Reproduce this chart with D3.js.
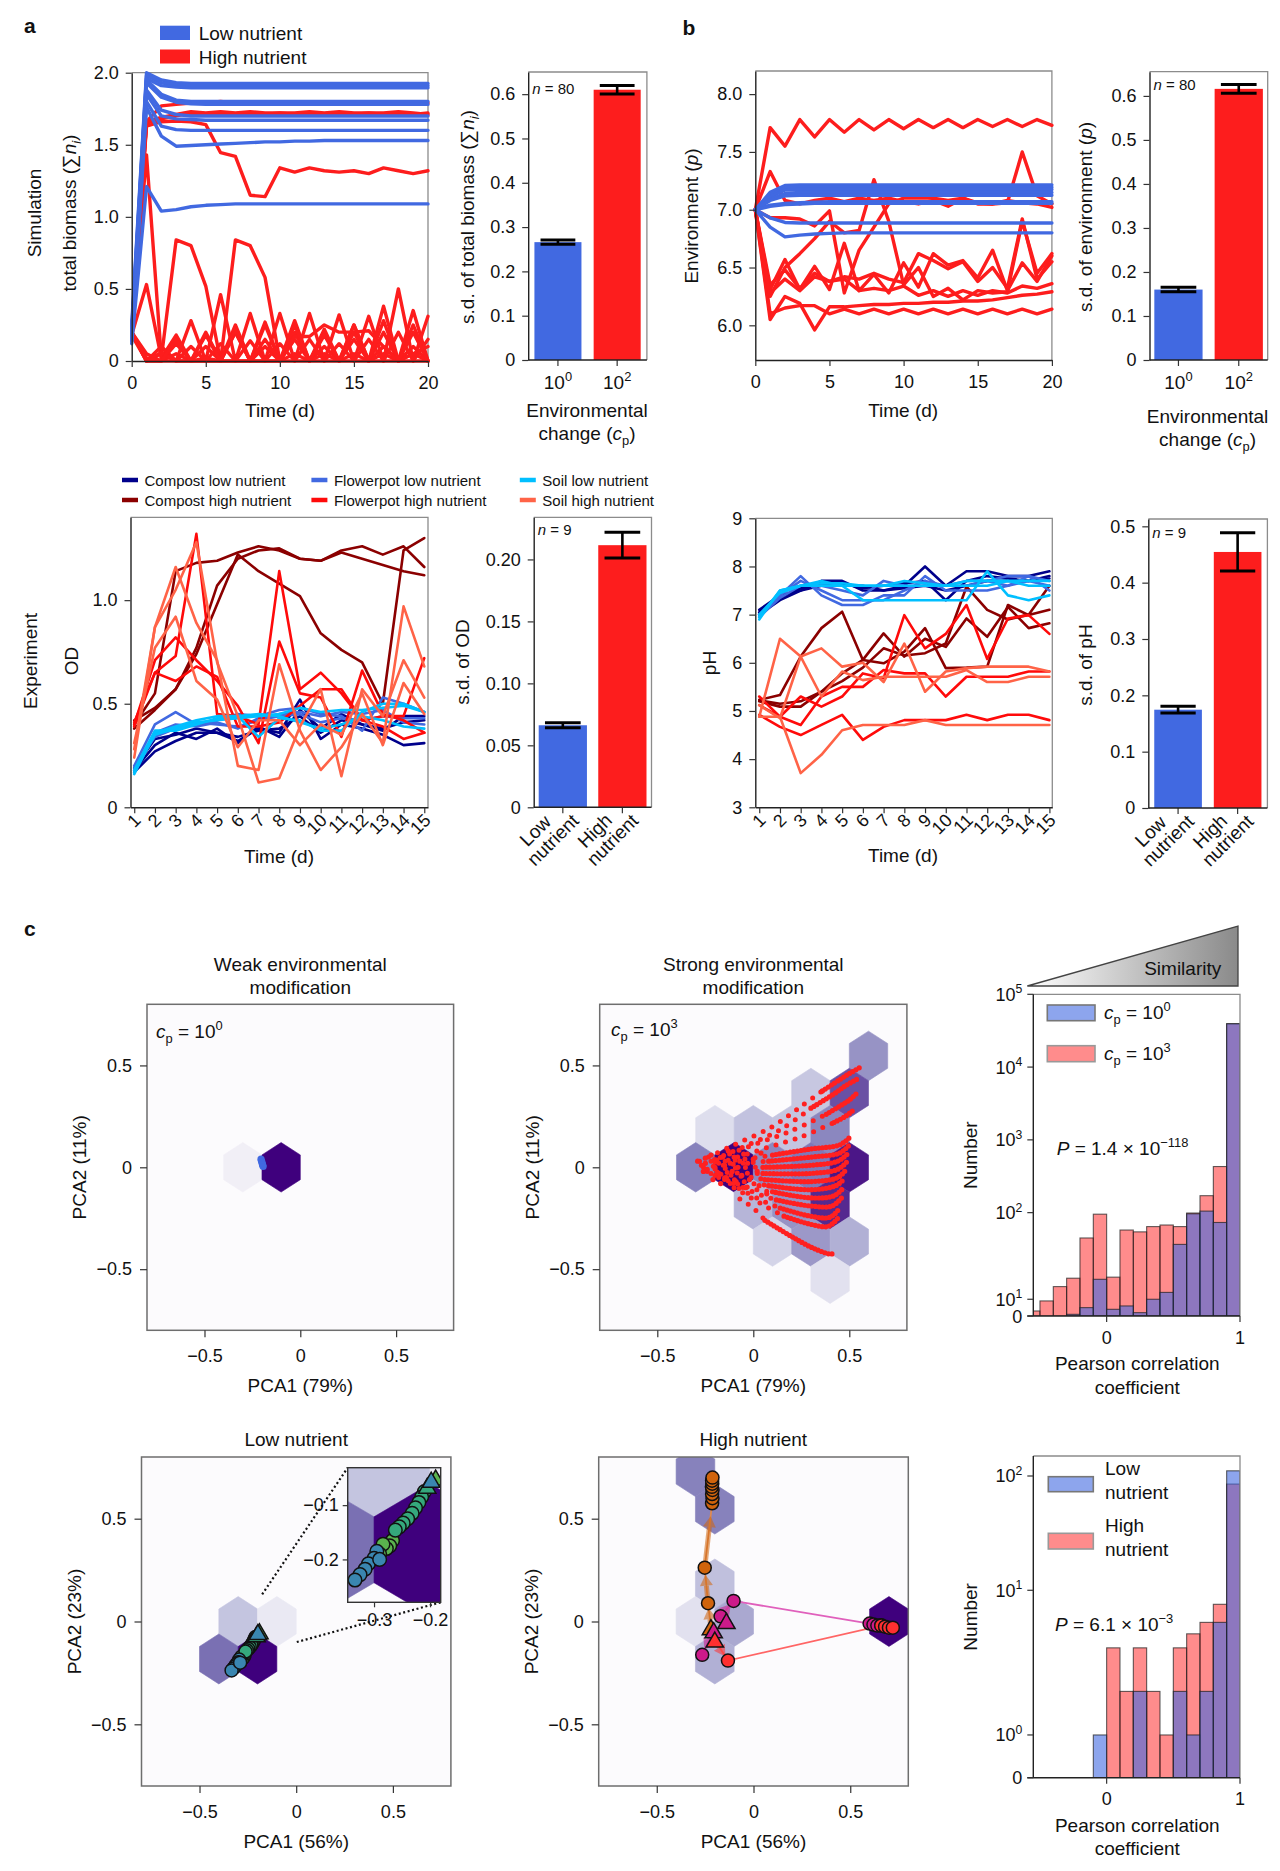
<!DOCTYPE html>
<html><head><meta charset="utf-8">
<script src="https://cdn.jsdelivr.net/npm/d3@7/dist/d3.min.js"></script>
<style>html,body{margin:0;padding:0;background:#fff}svg{display:block}</style>
</head><body>
<svg id="fig" width="1280" height="1871" xmlns="http://www.w3.org/2000/svg"></svg>
<script>
// ======================= DATA =======================
const simDays = [0,1,2,3,4,5,6,7,8,9,10,11,12,13,14,15,16,17,18,19,20];
const simBiomassLow = [
 [0.25,2.0,1.95,1.93,1.925,1.925,1.925,1.925,1.925,1.925,1.925,1.925,1.925,1.925,1.925,1.925,1.925,1.925,1.925,1.925,1.925],
 [0.22,1.98,1.93,1.915,1.91,1.91,1.91,1.91,1.91,1.91,1.91,1.91,1.91,1.91,1.91,1.91,1.91,1.91,1.91,1.91,1.91],
 [0.2,1.96,1.91,1.9,1.895,1.895,1.895,1.895,1.895,1.895,1.895,1.895,1.895,1.895,1.895,1.895,1.895,1.895,1.895,1.895,1.895],
 [0.18,1.95,1.85,1.81,1.8,1.8,1.8,1.8,1.8,1.8,1.8,1.8,1.8,1.8,1.8,1.8,1.8,1.8,1.8,1.8,1.8],
 [0.17,1.93,1.83,1.795,1.785,1.78,1.78,1.78,1.78,1.78,1.78,1.78,1.78,1.78,1.78,1.78,1.78,1.78,1.78,1.78,1.78],
 [0.16,1.88,1.74,1.71,1.7,1.7,1.7,1.7,1.7,1.7,1.7,1.7,1.7,1.7,1.7,1.7,1.7,1.7,1.7,1.7,1.7],
 [0.15,1.85,1.7,1.68,1.675,1.67,1.67,1.67,1.67,1.67,1.67,1.67,1.67,1.67,1.67,1.67,1.67,1.67,1.67,1.67,1.67],
 [0.15,1.8,1.63,1.605,1.6,1.6,1.6,1.6,1.6,1.6,1.6,1.6,1.6,1.6,1.6,1.6,1.6,1.6,1.6,1.6,1.6],
 [0.14,1.76,1.56,1.49,1.495,1.5,1.505,1.51,1.515,1.52,1.52,1.525,1.525,1.53,1.53,1.53,1.53,1.53,1.53,1.53,1.53],
 [0.12,1.21,1.04,1.05,1.07,1.08,1.085,1.09,1.09,1.09,1.09,1.09,1.09,1.09,1.09,1.09,1.09,1.09,1.09,1.09,1.09]
];
const simBiomassHigh = [
 [0.2,1.65,1.68,1.70,1.72,1.71,1.72,1.71,1.72,1.71,1.72,1.71,1.72,1.71,1.72,1.71,1.72,1.71,1.72,1.71,1.72],
 [0.2,1.66,1.69,1.71,1.73,1.72,1.73,1.72,1.73,1.72,1.72,1.72,1.73,1.72,1.73,1.72,1.72,1.72,1.73,1.72,1.71],
 [0.2,1.66,1.77,1.78,1.79,1.79,1.80,1.79,1.78,1.78,1.79,1.79,1.79,1.79,1.79,1.79,1.79,1.79,1.79,1.79,1.79],
 [0.2,1.63,1.66,1.665,1.66,1.64,1.445,1.42,1.15,1.14,1.34,1.31,1.34,1.32,1.31,1.32,1.30,1.34,1.32,1.30,1.32],
 [0.2,1.43,0.02,0.18,0,0.1,0,0.2,0,0.1,0,0.15,0,0.1,0,0.15,0,0.1,0,0.1,0],
 [0.18,0.53,0.02,0.84,0.80,0.52,0,0.2,0,0.25,0,0.2,0,0.2,0,0.25,0,0.2,0,0.35,0],
 [0.2,0,0,0.05,0,0.02,0,0.84,0.80,0.58,0,0.05,0,0.05,0,0.05,0,0.05,0,0.05,0],
 [0.2,0,0.1,0,0.28,0,0.46,0,0.33,0,0.33,0,0.33,0,0.32,0,0.31,0,0.5,0,0.31],
 [0.2,0.05,0,0.12,0,0.18,0,0.25,0,0.27,0,0.28,0,0.22,0,0.25,0,0.38,0,0.25,0],
 [0.2,0,0.05,0,0,0,0,0,0,0,0,0.17,0.17,0.25,0.2,0.2,0.21,0.1,0,0.05,0.1],
 [0.18,0,0,0,0,0,0,0,0,0,0,0,0,0,0,0,0,0,0,0,0],
 [0.2,0,0.06,0,0.1,0,0.12,0,0.14,0,0.12,0,0.15,0,0.12,0,0.15,0,0.2,0,0.15],
 [0.2,0.02,0,0.15,0,0.2,0,0.22,0,0.15,0,0.25,0,0.18,0,0.2,0,0.28,0,0.2,0]
];
const simEnvLow = [
 [7.0,7.15,7.21,7.215,7.215,7.215,7.215,7.215,7.215,7.215,7.215,7.215,7.215,7.215,7.215,7.215,7.215,7.215,7.215,7.215,7.215],
 [7.0,7.13,7.19,7.195,7.195,7.195,7.195,7.195,7.195,7.195,7.195,7.195,7.195,7.195,7.195,7.195,7.195,7.195,7.195,7.195,7.195],
 [7.0,7.11,7.17,7.175,7.175,7.175,7.175,7.175,7.175,7.175,7.175,7.175,7.175,7.175,7.175,7.175,7.175,7.175,7.175,7.175,7.175],
 [7.0,7.09,7.14,7.15,7.15,7.15,7.15,7.15,7.15,7.15,7.15,7.15,7.15,7.15,7.15,7.15,7.15,7.15,7.15,7.15,7.15],
 [7.0,7.08,7.12,7.125,7.125,7.125,7.125,7.125,7.125,7.125,7.125,7.125,7.125,7.125,7.125,7.125,7.125,7.125,7.125,7.125,7.125],
 [7.0,7.04,7.055,7.06,7.065,7.07,7.07,7.07,7.07,7.07,7.07,7.07,7.07,7.07,7.07,7.07,7.07,7.07,7.07,7.07,7.07],
 [7.0,7.03,7.045,7.05,7.055,7.055,7.055,7.055,7.055,7.055,7.055,7.055,7.055,7.055,7.055,7.055,7.055,7.055,7.055,7.055,7.055],
 [7.0,6.93,6.89,6.885,6.885,6.885,6.885,6.885,6.885,6.885,6.885,6.885,6.885,6.885,6.885,6.885,6.885,6.885,6.885,6.885,6.885],
 [7.0,6.85,6.765,6.78,6.79,6.795,6.8,6.8,6.8,6.8,6.8,6.8,6.8,6.8,6.8,6.8,6.8,6.8,6.8,6.8,6.8]
];
const simEnvHigh = [
 [7.0,7.71,7.55,7.78,7.63,7.78,7.67,7.78,7.69,7.78,7.70,7.78,7.71,7.78,7.71,7.78,7.72,7.78,7.72,7.78,7.73],
 [7.0,7.33,7.08,7.05,7.08,7.1,7.07,7.1,7.08,7.1,7.07,7.05,7.08,7.03,7.1,7.05,7.05,7.08,7.06,7.05,7.02],
 [7.0,6.05,6.25,6.19,5.96,6.16,6.16,6.17,6.18,6.18,6.19,6.19,6.2,6.2,6.21,6.21,6.22,6.24,6.26,6.27,6.29],
 [7.0,6.1,6.15,6.17,6.17,6.1,6.14,6.1,6.14,6.1,6.14,6.1,6.14,6.1,6.14,6.1,6.14,6.1,6.14,6.1,6.14],
 [7.0,6.31,6.57,6.31,6.51,6.31,6.71,6.3,6.44,6.28,6.54,6.33,6.62,6.52,6.56,6.41,6.65,6.3,6.54,6.38,6.6],
 [7.0,6.35,6.48,6.32,6.45,6.38,6.42,6.4,6.45,6.4,6.37,6.62,6.56,6.49,6.55,6.38,6.5,6.32,6.92,6.4,6.55],
 [7.0,6.93,6.93,6.92,6.86,6.99,6.28,6.65,6.85,7.05,7.1,7.1,7.1,7.08,7.1,7.06,7.05,7.06,7.5,7.12,7.05],
 [7.0,6.28,6.4,6.3,6.42,6.38,6.4,6.3,6.32,6.3,6.34,6.26,6.3,6.25,6.3,6.26,6.3,6.28,6.34,6.32,6.36],
 [7.0,6.25,6.5,6.62,6.75,6.9,6.8,6.82,7.26,6.9,6.35,6.5,6.25,6.32,6.22,6.3,6.28,6.29,6.9,6.45,6.62]
];
const cpExponents = ['0','2'];
const sdBiomass = [0.266, 0.61];
const sdBiomassErr = [0.005, 0.0095];
const sdEnv = [0.16, 0.616];
const sdEnvErr = [0.005, 0.01];

const expDays = [1,2,3,4,5,6,7,8,9,10,11,12,13,14,15];
const odCompostLow = [
 [0.17,0.27,0.32,0.36,0.36,0.32,0.38,0.36,0.52,0.33,0.40,0.38,0.35,0.30,0.31],
 [0.18,0.30,0.36,0.33,0.38,0.31,0.39,0.34,0.47,0.38,0.45,0.40,0.37,0.44,0.44],
 [0.19,0.33,0.35,0.38,0.36,0.34,0.37,0.38,0.44,0.36,0.42,0.40,0.38,0.41,0.42]];
const odCompostHigh = [
 [0.42,0.48,0.57,0.74,0.98,1.22,1.14,1.08,1.02,0.84,0.76,0.70,0.50,1.24,1.30],
 [0.40,0.55,1.14,1.18,1.19,1.23,1.26,1.24,1.20,1.19,1.24,1.26,1.22,1.26,1.16],
 [0.38,0.47,0.57,0.77,1.07,1.20,1.24,1.25,1.20,1.19,1.23,1.20,1.17,1.14,1.12]];
const odFlowerpotLow = [
 [0.20,0.40,0.46,0.40,0.42,0.45,0.44,0.47,0.48,0.45,0.44,0.37,0.53,0.50,0.46],
 [0.18,0.36,0.40,0.39,0.41,0.38,0.43,0.45,0.46,0.44,0.46,0.45,0.47,0.41,0.40],
 [0.19,0.34,0.38,0.41,0.40,0.39,0.42,0.44,0.45,0.41,0.43,0.42,0.44,0.43,0.43]];
const odFlowerpotHigh = [
 [0.40,0.71,0.82,0.71,0.61,0.49,0.31,0.80,0.55,0.53,0.34,0.66,0.45,0.42,0.36],
 [0.41,0.65,0.73,1.32,0.45,0.44,0.40,1.14,0.57,0.65,0.55,0.42,0.44,0.44,0.72],
 [0.39,0.65,0.61,0.68,0.63,0.39,0.39,0.41,0.49,0.57,0.57,0.42,0.39,0.33,0.36]];
const odSoilLow = [
 [0.16,0.36,0.39,0.42,0.44,0.44,0.34,0.43,0.42,0.37,0.37,0.46,0.50,0.50,0.46],
 [0.18,0.37,0.37,0.40,0.43,0.44,0.45,0.44,0.41,0.38,0.40,0.44,0.42,0.39,0.38],
 [0.17,0.35,0.38,0.41,0.42,0.43,0.44,0.45,0.48,0.46,0.47,0.47,0.48,0.49,0.46]];
const odSoilHigh = [
 [0.24,0.87,1.16,0.89,0.71,0.20,0.18,0.69,0.37,0.18,0.29,0.45,0.31,0.97,0.68],
 [0.28,0.87,1.05,1.28,0.70,0.44,0.12,0.14,0.39,0.57,0.15,0.57,0.44,0.71,0.53],
 [0.31,0.77,0.92,0.61,0.52,0.29,0.42,0.42,0.30,0.40,0.35,0.55,0.30,0.60,0.45]];
const phCompostLow = [
 [7.1,7.4,7.5,7.7,7.7,7.5,7.5,7.6,8.0,7.6,7.9,7.9,7.8,7.8,7.9],
 [7.05,7.35,7.55,7.65,7.65,7.55,7.6,7.65,7.7,7.3,7.7,7.8,7.75,7.7,7.8],
 [7.0,7.3,7.5,7.6,7.6,7.6,7.5,7.55,7.6,7.5,7.6,7.7,7.7,7.7,7.75]];
const phCompostHigh = [
 [5.23,5.33,6.13,6.72,7.06,6.06,5.99,6.23,6.72,5.89,5.9,5.92,7.2,6.99,7.1],
 [5.2,5.09,5.09,5.4,5.78,6.06,6.61,6.13,6.5,6.33,6.92,6.54,7.16,6.72,6.82],
 [5.22,5.15,5.2,5.4,5.62,5.9,6.3,6.15,6.2,6.4,7.58,7.1,6.9,7.0,7.6]];
const phFlowerpotLow = [
 [7.0,7.4,7.8,7.4,7.2,7.2,7.4,7.4,7.8,7.5,7.5,7.5,7.6,7.8,7.5],
 [7.0,7.4,7.7,7.5,7.3,7.3,7.3,7.5,7.7,7.6,7.6,7.7,7.8,7.8,7.7],
 [6.95,7.35,7.6,7.6,7.5,7.4,7.7,7.6,7.6,7.6,7.7,7.7,7.6,7.7,7.6]];
const phFlowerpotHigh = [
 [4.92,4.67,4.5,4.71,4.92,4.4,4.67,4.81,4.81,4.81,4.92,4.81,4.92,4.92,4.81],
 [5.12,4.88,5.3,5.09,5.3,5.78,5.68,6.99,6.3,6.6,7.2,6.08,6.92,6.99,6.6],
 [5.3,4.88,4.71,5.3,5.5,5.5,5.85,5.78,5.78,5.3,5.71,5.71,5.71,5.82,5.82]];
const phSoilLow = [
 [6.9,7.5,7.6,7.7,7.6,7.3,7.3,7.3,7.3,7.3,7.3,7.9,7.4,7.3,7.4],
 [6.95,7.5,7.6,7.6,7.6,7.6,7.6,7.6,7.6,7.6,7.6,7.6,7.7,7.6,7.6],
 [7.0,7.45,7.6,7.65,7.65,7.6,7.6,7.7,7.65,7.6,7.7,7.7,7.7,7.7,7.7]];
const phSoilHigh = [
 [4.88,6.5,6.13,6.3,5.92,6.0,5.6,6.4,5.4,5.82,5.89,5.92,5.92,5.92,5.82],
 [4.88,4.88,3.71,4.09,4.6,4.71,4.71,4.71,4.81,4.71,4.71,4.71,4.71,4.71,4.71],
 [5.12,4.85,6.13,5.3,5.82,5.64,5.71,5.71,5.71,5.71,5.85,5.6,5.6,5.71,5.71]];
const expLegend = ['Compost low nutrient','Compost high nutrient','Flowerpot low nutrient','Flowerpot high nutrient','Soil low nutrient','Soil high nutrient'];
const nutrientLabels = [['Low','nutrient'],['High','nutrient']];
const sdOD = [0.0662, 0.2115];
const sdODErr = [0.002, 0.0104];
const sdPH = [0.1745, 0.4545];
const sdPHErr = [0.006, 0.034];

// panel c : hexbin backgrounds  [x centre, row, density level]
const hexWeak = [[-0.3,0,0.1],[-0.1,0,1.0]];
const hexStrong = [[0.6,3,0.53],[0.3,2,0.33],[0.5,2,0.75],[-0.2,1,0.22],[0.0,1,0.35],[0.2,1,0.34],[0.4,1,0.58],
 [-0.3,0,0.6],[-0.1,0,1.0],[0.1,0,0.57],[0.3,0,0.63],[0.5,0,0.93],[0.0,-1,0.4],[0.2,-1,0.53],[0.4,-1,0.87],
 [0.1,-2,0.27],[0.3,-2,0.51],[0.5,-2,0.42],[0.4,-3,0.2]];
const hexLow = [[-0.3,0,0.34],[-0.1,0,0.15],[-0.4,-1,0.66],[-0.2,-1,1.0]];
const hexHigh = [[-0.3,4,0.6],[-0.2,3,0.6],[-0.2,1,0.36],[-0.3,0,0.2],[-0.1,0,0.45],[-0.2,-1,0.42],[0.7,0,1.0]];
const weakPoints = [[-0.205,0.04],[-0.203,0.032],[-0.2,0.024],[-0.198,0.016],[-0.196,0.01],[-0.194,0.004]];
const strongSparse = [
 [[-0.28,0.03],[-0.1,0.11],[0.1,0.2],[0.25,0.3],[0.36,0.375]],
 [[-0.25,0.02],[-0.05,0.1],[0.15,0.19],[0.3,0.29]],
 [[-0.22,0.03],[0.0,0.11],[0.2,0.18],[0.38,0.26]],
 [[-0.18,0.02],[0.05,0.09],[0.25,0.15],[0.42,0.22]],
 [[-0.25,0.02],[-0.05,0.04],[0.1,0.06]],
 [[-0.26,0.0],[-0.05,0.02],[0.08,0.03]],
 [[-0.25,-0.01],[0.0,0.0],[0.05,0.0]],
 [[-0.24,-0.02],[-0.02,-0.03],[0.05,-0.03]],
 [[-0.22,-0.03],[0.0,-0.05],[0.06,-0.06]],
 [[-0.2,-0.04],[0.0,-0.08],[0.08,-0.09]],
 [[-0.18,-0.05],[0.02,-0.11],[0.1,-0.12]],
 [[-0.15,-0.06],[0.05,-0.14],[0.12,-0.16]],
 [[-0.12,-0.08],[0.06,-0.17],[0.14,-0.2]],
 [[-0.1,-0.1],[0.08,-0.2],[0.16,-0.24]],
 [[-0.07,-0.155],[0.0,-0.2],[0.06,-0.26]]];
const strongDense = [
 [[0.36,0.375],[0.45,0.43],[0.5,0.46],[0.555,0.49]],
 [[0.3,0.29],[0.42,0.36],[0.48,0.4],[0.545,0.435]],
 [[0.38,0.26],[0.45,0.3],[0.5,0.33],[0.54,0.365]],
 [[0.42,0.22],[0.48,0.25],[0.52,0.28]],
 [[0.1,0.06],[0.3,0.09],[0.45,0.11],[0.5,0.145]],
 [[0.08,0.03],[0.3,0.05],[0.45,0.07],[0.495,0.105]],
 [[0.05,0.0],[0.3,0.01],[0.44,0.03],[0.49,0.065]],
 [[0.05,-0.03],[0.3,-0.03],[0.44,-0.01],[0.485,0.025]],
 [[0.06,-0.06],[0.3,-0.07],[0.44,-0.05],[0.48,-0.015]],
 [[0.08,-0.09],[0.3,-0.11],[0.43,-0.09],[0.475,-0.055]],
 [[0.1,-0.12],[0.3,-0.15],[0.42,-0.14],[0.47,-0.1]],
 [[0.12,-0.16],[0.3,-0.19],[0.41,-0.19],[0.46,-0.15]],
 [[0.14,-0.2],[0.3,-0.24],[0.4,-0.245],[0.45,-0.2]],
 [[0.16,-0.24],[0.3,-0.28],[0.39,-0.29],[0.44,-0.25]],
 [[0.06,-0.26],[0.2,-0.34],[0.32,-0.4],[0.41,-0.425],[0.415,-0.41]]];
const strongScatter = [[-0.29,0.03],[-0.27,0.01],[-0.25,0.045],[-0.24,-0.01],[-0.22,0.06],[-0.2,0.0],[-0.19,0.035],
 [-0.18,-0.03],[-0.16,0.05],[-0.15,0.01],[-0.14,-0.05],[-0.13,0.08],[-0.12,0.02],[-0.11,-0.02],[-0.1,0.05],
 [-0.09,-0.07],[-0.08,0.0],[-0.07,0.03],[-0.06,-0.04],[-0.05,0.065],[-0.04,-0.1],[-0.03,0.02],[-0.02,-0.06],
 [0.0,0.04],[0.02,-0.02],[-0.21,-0.06],[-0.17,-0.08],[-0.26,-0.02],[0.03,-0.09],[0.07,-0.13],[0.04,0.07]];
const lowTeal = [[-0.205,-0.065],[-0.21,-0.075],[-0.215,-0.085],[-0.22,-0.095],[-0.226,-0.105],[-0.232,-0.115],[-0.24,-0.125],[-0.248,-0.133],[-0.255,-0.14],[-0.262,-0.146]];
const lowGreen = [[-0.19,-0.05],[-0.267,-0.165],[-0.272,-0.175],[-0.278,-0.18],[-0.284,-0.172],[-0.29,-0.19]];
const lowBlue = [[-0.198,-0.054],[-0.295,-0.185],[-0.3,-0.198],[-0.31,-0.208],[-0.316,-0.218],[-0.325,-0.228],[-0.334,-0.238],[-0.29,-0.2]];
const zoomLinkFrom = [[-0.176,0.132],[0.003,-0.1]];
const hiOrange = [[-0.22,-0.03],[-0.235,0.089],[-0.252,0.262],[-0.214,0.575],[-0.212,0.6],[-0.214,0.62],[-0.212,0.64],[-0.215,0.655],[-0.213,0.67],[-0.214,0.685],[-0.212,0.7]];
const hiMagentaA = [[-0.14,0.0],[-0.17,0.025],[-0.103,0.1],[0.6,-0.01],[0.62,-0.015],[0.64,-0.02],[0.66,-0.018]];
const hiMagentaB = [[-0.206,-0.045],[-0.265,-0.162]];
const hiRed = [[-0.2,-0.09],[-0.132,-0.19],[0.66,-0.02],[0.68,-0.025],[0.7,-0.03],[0.72,-0.03]];

// histograms: bin lower edges (width 0.1) and counts
const hist1Bins = [-0.6,-0.5,-0.4,-0.3,-0.2,-0.1,0.0,0.1,0.2,0.3,0.4,0.5,0.6,0.7,0.8,0.9];
const hist1Strong = [3,9,14,17.5,51,96,18,63,60,69,72,69,99,171,430,39400];
const hist1Weak = [0,0,0,1,5,17,4,6,2,10,12,43,97,105,77,39400];
const hist1TickCounts = [0,10,100,1000,10000,100000];
const hist1TickExp = [null,'1','2','3','4','5'];
const hist1TickDecades = [0.58,0.81,2,3,4,5];
const hist2Bins = [-0.1,0.0,0.1,0.2,0.3,0.4,0.5,0.6,0.7,0.8,0.9];
const hist2High = [0,4,2,4,2,1,4,5,6,8,85];
const hist2Low = [1,0,0,2,0,0,2,1,2,6,111];
const hist2TickCounts = [0,1,10,100];
const hist2TickExp = [null,'0','1','2'];
const hist2TickDecades = [-0.64,-0.266,1,2];

// ======================= DRAWING =======================
const FONT = '"Liberation Sans", Arial, Helvetica, sans-serif';
const BLUE = '#4169e1', RED = '#fd1d1d';
const svg = d3.select('#fig').attr('font-family', FONT);
const defs = svg.append('defs');
let clipN = 0;
function clip(L,T,R,B){ const id='clp'+(clipN++); defs.append('clipPath').attr('id',id).append('rect').attr('x',L).attr('y',T).attr('width',R-L).attr('height',B-T); return `url(#${id})`; }

function txt(g, x, y, parts, o={}) {
  const size = o.size || 19;
  const t = g.append('text').attr('x', x).attr('y', y).attr('font-size', size)
    .attr('text-anchor', o.anchor || 'start').attr('fill', o.fill || '#111');
  if (o.rotate) t.attr('transform', `rotate(${o.rotate},${x},${y})`);
  if (o.bold) t.attr('font-weight', 'bold');
  let shift = 0;
  (Array.isArray(parts) ? parts : [parts]).forEach(p => {
    if (typeof p === 'string') p = {t: p};
    const s = t.append('tspan').text(p.t);
    let target = 0, fs = size;
    if (p.sup) { target = -0.42 * size; fs = 0.68 * size; }
    if (p.sub) { target = 0.28 * size; fs = 0.68 * size; }
    s.attr('font-size', fs);
    if (target !== shift) { s.attr('dy', target - shift); shift = target; }
    if (p.it) s.attr('font-style', 'italic');
  });
  return t;
}
function fixAxis(a, o={}) {
  a.attr('font-family', FONT).attr('font-size', o.fs || 18);
  a.selectAll('text').attr('fill', '#111');
  a.selectAll('.tick line').attr('stroke', '#333').attr('stroke-width', 1.2);
  if (o.noDomain) a.select('.domain').remove();
  else a.select('.domain').attr('stroke', '#222').attr('stroke-width', 1.4);
}
function axL(g, s, L, ticks, fmt, o={}) {
  const a = g.append('g').attr('transform', `translate(${L},0)`)
    .call(d3.axisLeft(s).tickValues(ticks).tickFormat(fmt).tickSize(o.ts || 6).tickSizeOuter(0).tickPadding(o.tp || 7));
  fixAxis(a, o); return a;
}
function axB(g, s, B, ticks, fmt, o={}) {
  const a = g.append('g').attr('transform', `translate(0,${B})`)
    .call(d3.axisBottom(s).tickValues(ticks).tickFormat(fmt).tickSize(o.ts || 6).tickSizeOuter(0).tickPadding(o.tp || 8));
  fixAxis(a, o); return a;
}
function grayTR(g, L, T, R, B) {
  g.append('path').attr('d', `M${L},${T}H${R}V${B}`).attr('fill', 'none').attr('stroke', '#8c8c8c').attr('stroke-width', 1.3);
}
const f1 = d => d === 0 ? '0' : d3.format('.1f')(d);
const f2 = d => d === 0 ? '0' : d3.format('.2f')(d);

function drawSeries(g, xs, ys, xv, list, color, w) {
  const line = d3.line().x((d, i) => xs(xv[i])).y(d => ys(d));
  g.selectAll(null).data(list).join('path').attr('d', line).attr('fill', 'none')
    .attr('stroke', color).attr('stroke-width', w).attr('stroke-linejoin', 'round').attr('stroke-linecap', 'round');
}

function barPanel(o) {
  const {L, T, R, B} = o;
  const g = svg.append('g');
  const x = d3.scaleBand().domain([0, 1]).range([L, R]).paddingInner(o.pi).paddingOuter(o.po);
  const y = d3.scaleLinear().domain([0, o.ymax]).range([B, T]);
  grayTR(g, L, T, R, B);
  g.selectAll(null).data(o.vals).join('rect')
    .attr('x', (d, i) => x(i)).attr('width', x.bandwidth())
    .attr('y', d => y(d)).attr('height', d => B - y(d)).attr('fill', (d, i) => [BLUE, RED][i]);
  const cap = x.bandwidth() * 0.37;
  o.vals.forEach((v, i) => {
    const cx = x(i) + x.bandwidth() / 2;
    const e = o.errs[i];
    g.append('line').attr('x1', cx).attr('x2', cx).attr('y1', y(v - e)).attr('y2', y(v + e)).attr('stroke', '#000').attr('stroke-width', 2.6);
    [v - e, v + e].forEach(vv => g.append('line').attr('x1', cx - cap).attr('x2', cx + cap).attr('y1', y(vv)).attr('y2', y(vv)).attr('stroke', '#000').attr('stroke-width', 3));
    g.append('line').attr('x1', cx).attr('x2', cx).attr('y1', B).attr('y2', B + 6).attr('stroke', '#333').attr('stroke-width', 1.2);
  });
  g.append('line').attr('x1', L).attr('x2', R).attr('y1', B).attr('y2', B).attr('stroke', '#222').attr('stroke-width', 1.4);
  axL(g, y, L, o.ticks, o.fmt);
  txt(g, L + 4, o.nY, [{t: 'n', it: true}, ' = ' + o.n], {size: 15});
  return {g, x, y, cx: i => x(i) + x.bandwidth() / 2};
}

// ---------------- Panel a ----------------
{
  const L = 131.7, T = 72.7, R = 428, B = 361;
  const g = svg.append('g');
  const xs = d3.scaleLinear().domain([0, 20]).range([L, R]);
  const ys = d3.scaleLinear().domain([0, 2]).range([B, T]);
  grayTR(g, L, T, R, B);
  drawSeries(g, xs, ys, simDays, simBiomassHigh, RED, 3.4);
  drawSeries(g, xs, ys, simDays, simBiomassLow, BLUE, 3.4);
  axL(g, ys, L, [0, 0.5, 1, 1.5, 2], f1);
  axB(g, xs, B, [0, 5, 10, 15, 20], d3.format('d'), {tp: 9});
  txt(g, 24, 33, 'a', {size: 21, bold: true});
  g.append('rect').attr('x', 160).attr('y', 25.7).attr('width', 30).attr('height', 14.3).attr('fill', BLUE);
  g.append('rect').attr('x', 160).attr('y', 49.5).attr('width', 30).attr('height', 14).attr('fill', RED);
  txt(g, 198.7, 39.5, 'Low nutrient');
  txt(g, 198.7, 63.5, 'High nutrient');
  txt(g, 41.3, 213, 'Simulation', {anchor: 'middle', rotate: -90});
  txt(g, 76, 213, ['total biomass (', '∑', {t: 'n', it: true}, {t: 'i', sub: true, it: true}, ')'], {anchor: 'middle', rotate: -90});
  txt(g, 280, 417, 'Time (d)', {anchor: 'middle'});
  const b = barPanel({L: 528.2, T: 72, R: 646.9, B: 360, ymax: 0.65, pi: 0.206, po: 0.105, vals: sdBiomass, errs: sdBiomassErr,
    ticks: [0, 0.1, 0.2, 0.3, 0.4, 0.5, 0.6], fmt: f1, n: '80', nY: 94});
  cpExponents.forEach((e, i) => txt(g, b.cx(i), 389, ['10', {t: e, sup: true}], {anchor: 'middle'}));
  txt(g, 587, 417, 'Environmental', {anchor: 'middle'});
  txt(g, 587, 440, ['change (', {t: 'c', it: true}, {t: 'p', sub: true}, ')'], {anchor: 'middle'});
  txt(g, 474, 217, ['s.d. of total biomass (', '∑', {t: 'n', it: true}, {t: 'i', sub: true, it: true}, ')'], {anchor: 'middle', rotate: -90});
}
// ---------------- Panel b ----------------
{
  const L = 755.3, T = 71, R = 1051.9, B = 360;
  const g = svg.append('g');
  const xs = d3.scaleLinear().domain([0, 20]).range([L, R]);
  const ys = d3.scaleLinear().domain([5.7, 8.2]).range([B, T]);
  grayTR(g, L, T, R, B);
  drawSeries(g, xs, ys, simDays, simEnvHigh, RED, 3.4);
  drawSeries(g, xs, ys, simDays, simEnvLow, BLUE, 3.4);
  axL(g, ys, L, [6, 6.5, 7, 7.5, 8], f1);
  axB(g, xs, B, [0, 5, 10, 15, 20], d3.format('d'), {tp: 9});
  txt(g, 682.5, 35, 'b', {size: 21, bold: true});
  txt(g, 698.4, 216, ['Environment (', {t: 'p', it: true}, ')'], {anchor: 'middle', rotate: -90});
  txt(g, 903.2, 417, 'Time (d)', {anchor: 'middle'});
  const b = barPanel({L: 1149.5, T: 71.7, R: 1267.7, B: 360, ymax: 0.655, pi: 0.2, po: 0.08, vals: sdEnv, errs: sdEnvErr,
    ticks: [0, 0.1, 0.2, 0.3, 0.4, 0.5, 0.6], fmt: f1, n: '80', nY: 90});
  cpExponents.forEach((e, i) => txt(g, b.cx(i), 389, ['10', {t: e, sup: true}], {anchor: 'middle'}));
  txt(g, 1207.6, 423, 'Environmental', {anchor: 'middle'});
  txt(g, 1207.6, 446, ['change (', {t: 'c', it: true}, {t: 'p', sub: true}, ')'], {anchor: 'middle'});
  txt(g, 1092, 217, ['s.d. of environment (', {t: 'p', it: true}, ')'], {anchor: 'middle', rotate: -90});
}
// ---------------- Row 2 (experiment) ----------------
const expColors = ['#00008b', '#8b0000', '#4169e1', '#ff0a0a', '#00bfff', '#ff6347'];
{
  const g = svg.append('g');
  const colX = [122, 311.4, 519.8];
  expLegend.forEach((lab, i) => {
    const cx = colX[Math.floor(i / 2)], cy = i % 2 === 0 ? 480 : 500;
    g.append('line').attr('x1', cx).attr('x2', cx + 16).attr('y1', cy).attr('y2', cy).attr('stroke', expColors[i]).attr('stroke-width', 4.5);
    txt(g, cx + 22.5, cy + 5.5, lab, {size: 15});
  });
}
function dayAxis(g, xs, B) {
  const a = axB(g, xs, B, expDays, d3.format('d'), {});
  a.selectAll('text').attr('x', 0).attr('y', 0).attr('dy', 0).attr('text-anchor', 'end').attr('transform', 'translate(7,14) rotate(-45)');
}
function nutrientTicks(g, b, B) {
  nutrientLabels.forEach((lines, i) => {
    const gg = g.append('g').attr('transform', `translate(${b.cx(i) - 23},${B + 28}) rotate(-45)`);
    txt(gg, 0, 0, lines[0], {anchor: 'middle'});
    txt(gg, 6, 19, lines[1], {anchor: 'middle'});
  });
}
{
  const L = 130.5, T = 517.3, R = 428, B = 807.3;
  const g = svg.append('g');
  const xs = d3.scaleLinear().domain([0.82, 15.18]).range([L, R]);
  const ys = d3.scaleLinear().domain([0, 1.4]).range([B, T]);
  grayTR(g, L, T, R, B);
  [odCompostLow, odCompostHigh, odFlowerpotLow, odFlowerpotHigh, odSoilLow, odSoilHigh].forEach((s, i) => drawSeries(g, xs, ys, expDays, s, expColors[i], 2.6));
  axL(g, ys, L, [0, 0.5, 1.0], f1);
  dayAxis(g, xs, B);
  txt(g, 37, 661, 'Experiment', {anchor: 'middle', rotate: -90});
  txt(g, 78.3, 661, 'OD', {anchor: 'middle', rotate: -90});
  txt(g, 279, 863, 'Time (d)', {anchor: 'middle'});
  const b = barPanel({L: 533.7, T: 517.3, R: 651.5, B: 807.3, ymax: 0.234, pi: 0.19, po: 0.084, vals: sdOD, errs: sdODErr,
    ticks: [0, 0.05, 0.1, 0.15, 0.2], fmt: f2, n: '9', nY: 535});
  nutrientTicks(g, b, 807.3);
  txt(g, 468.5, 662, 's.d. of OD', {anchor: 'middle', rotate: -90});
}
{
  const L = 755.3, T = 518.3, R = 1052.3, B = 807.3;
  const g = svg.append('g');
  const xs = d3.scaleLinear().domain([0.81, 15.14]).range([L, R]);
  const ys = d3.scaleLinear().domain([3, 9]).range([B, T]);
  grayTR(g, L, T, R, B);
  [phCompostLow, phCompostHigh, phFlowerpotLow, phFlowerpotHigh, phSoilLow, phSoilHigh].forEach((s, i) => drawSeries(g, xs, ys, expDays, s, expColors[i], 2.6));
  axL(g, ys, L, [3, 4, 5, 6, 7, 8, 9], d3.format('d'));
  dayAxis(g, xs, B);
  txt(g, 716, 663, 'pH', {anchor: 'middle', rotate: -90});
  txt(g, 903, 862, 'Time (d)', {anchor: 'middle'});
  const b = barPanel({L: 1148.3, T: 519, R: 1267.4, B: 808, ymax: 0.513, pi: 0.2, po: 0.1, vals: sdPH, errs: sdPHErr,
    ticks: [0, 0.1, 0.2, 0.3, 0.4, 0.5], fmt: f1, n: '9', nY: 537.5});
  nutrientTicks(g, b, 808);
  txt(g, 1092, 665, 's.d. of pH', {anchor: 'middle', rotate: -90});
}
// ---------------- Panel c ----------------
const hexHW = 0.1, hexR = 0.1215;
function hexD(xs, ys, cx, row) {
  const cy = row * 1.5 * hexR;
  const p = [[cx, cy + hexR], [cx + hexHW, cy + hexR / 2], [cx + hexHW, cy - hexR / 2], [cx, cy - hexR], [cx - hexHW, cy - hexR / 2], [cx - hexHW, cy + hexR / 2]];
  return 'M' + p.map(q => xs(q[0]).toFixed(2) + ',' + ys(q[1]).toFixed(2)).join('L') + 'Z';
}
function drawHexes(gr, xs, ys, hexes) {
  gr.selectAll(null).data(hexes).join('path').attr('d', d => hexD(xs, ys, d[0], d[1]))
    .attr('fill', d => d3.interpolatePurples(d[2])).attr('stroke', d => d3.interpolatePurples(d[2])).attr('stroke-width', 0.6);
}
function pcaPanel(o) {
  const {L, T, R, B} = o;
  const g = svg.append('g');
  const xs = d3.scaleLinear().domain([-0.8, 0.8]).range([L, R]);
  const ys = d3.scaleLinear().domain([-0.8, 0.8]).range([B, T]);
  g.append('rect').attr('x', L).attr('y', T).attr('width', R - L).attr('height', B - T).attr('fill', d3.interpolatePurples(0));
  const inner = g.append('g').attr('clip-path', clip(L, T, R, B));
  drawHexes(inner, xs, ys, o.hexes);
  g.append('rect').attr('x', L).attr('y', T).attr('width', R - L).attr('height', B - T).attr('fill', 'none').attr('stroke', '#6e6e6e').attr('stroke-width', 1.5);
  axL(g, ys, L, [-0.5, 0, 0.5], f1, {noDomain: true, ts: 7, tp: 8});
  axB(g, xs, B, [-0.5, 0, 0.5], f1, {noDomain: true, ts: 7, tp: 12});
  txt(g, L - 61, (T + B) / 2, o.ylab, {anchor: 'middle', rotate: -90});
  txt(g, (L + R) / 2, B + 61.5, o.xlab, {anchor: 'middle'});
  return {g, inner, xs, ys};
}
const dotLine = d3.line().curve(d3.curveCatmullRom);
{
  const g = svg.append('g');
  txt(g, 24, 936, 'c', {size: 21, bold: true});
  // weak
  const w = pcaPanel({L: 147, T: 1004.3, R: 453.6, B: 1330.3, hexes: hexWeak, ylab: 'PCA2 (11%)', xlab: 'PCA1 (79%)'});
  w.inner.selectAll(null).data(weakPoints).join('circle').attr('cx', d => w.xs(d[0])).attr('cy', d => w.ys(d[1])).attr('r', 3.6).attr('fill', BLUE);
  txt(g, 300.3, 971, 'Weak environmental', {anchor: 'middle'});
  txt(g, 300.3, 994, 'modification', {anchor: 'middle'});
  txt(g, 156, 1038, [{t: 'c', it: true}, {t: 'p', sub: true}, ' = 10', {t: '0', sup: true}]);
  // strong
  const s = pcaPanel({L: 599.7, T: 1004.3, R: 906.9, B: 1330.3, hexes: hexStrong, ylab: 'PCA2 (11%)', xlab: 'PCA1 (79%)'});
  const sx = d => [s.xs(d[0]), s.ys(d[1])];
  s.inner.selectAll(null).data(strongSparse).join('path').attr('d', d => dotLine(d.map(sx))).attr('fill', 'none')
    .attr('stroke', '#ff2020').attr('stroke-width', 5).attr('stroke-linecap', 'round').attr('stroke-dasharray', '0 10');
  s.inner.selectAll(null).data(strongDense).join('path').attr('d', d => dotLine(d.map(sx))).attr('fill', 'none')
    .attr('stroke', '#ff2020').attr('stroke-width', 5.2).attr('stroke-linecap', 'round').attr('stroke-dasharray', '0 3.6');
  s.inner.selectAll(null).data(strongScatter).join('circle').attr('cx', d => s.xs(d[0])).attr('cy', d => s.ys(d[1])).attr('r', 2.6).attr('fill', '#ff2020');
  const g2 = svg.append('g');
  txt(g2, 753.3, 971, 'Strong environmental', {anchor: 'middle'});
  txt(g2, 753.3, 994, 'modification', {anchor: 'middle'});
  txt(g2, 611, 1036, [{t: 'c', it: true}, {t: 'p', sub: true}, ' = 10', {t: '3', sup: true}]);
  txt(g2, 156, 1038, [{t: 'c', it: true}, {t: 'p', sub: true}, ' = 10', {t: '0', sup: true}]);
}
// histograms
function histPanel(o) {
  const {L, T, R, B} = o;
  const g = svg.append('g');
  const x = d3.scaleLinear().domain([-0.55, 1]).range([L, R]);
  const yd = d3.scaleLinear().domain([o.decs[0], o.decTop]).range([B, T]);
  const t = o.counts, dd = o.decs;
  const toDec = c => {
    let i = 0; while (i < t.length - 2 && c > t[i + 1]) i++;
    if (t[i] === 0) return dd[i] + (c / t[i + 1]) * (dd[i + 1] - dd[i]);
    return dd[i] + (Math.log10(c) - Math.log10(t[i])) / (Math.log10(t[i + 1]) - Math.log10(t[i])) * (dd[i + 1] - dd[i]);
  };
  const inner = g.append('g').attr('clip-path', clip(L, T, R, B));
  [[o.red, 'rgba(255,0,0,0.45)'], [o.blue, 'rgba(65,105,225,0.6)']].forEach(([vals, fill]) => {
    inner.selectAll(null).data(vals.map((c, i) => ({c, b: o.bins[i]})).filter(d => d.c > 0)).join('rect')
      .attr('x', d => x(d.b)).attr('width', d => x(d.b + 0.1) - x(d.b))
      .attr('y', d => yd(toDec(d.c))).attr('height', d => B - yd(toDec(d.c)))
      .attr('fill', fill).attr('stroke', 'rgba(30,30,30,0.7)').attr('stroke-width', 1.1);
  });
  grayTR(g, L, T, R, B);
  g.append('line').attr('x1', L).attr('x2', L).attr('y1', T).attr('y2', B).attr('stroke', '#222').attr('stroke-width', 1.4);
  g.append('line').attr('x1', L - 6).attr('x2', R).attr('y1', B).attr('y2', B).attr('stroke', '#222').attr('stroke-width', 1.4);
  t.forEach((c, i) => {
    const yy = yd(toDec(c));
    g.append('line').attr('x1', L - 6).attr('x2', L).attr('y1', yy).attr('y2', yy).attr('stroke', '#333').attr('stroke-width', 1.2);
    const parts = o.exps[i] === null ? ['0'] : ['10', {t: o.exps[i], sup: true}];
    txt(g, L - 11, yy + 6.5, parts, {anchor: 'end', size: 18});
  });
  [0, 1].forEach(v => {
    g.append('line').attr('x1', x(v)).attr('x2', x(v)).attr('y1', B).attr('y2', B + 6).attr('stroke', '#333').attr('stroke-width', 1.2);
    txt(g, x(v), B + 27.5, String(v), {anchor: 'middle', size: 18});
  });
  txt(g, 1137.3, B + 54, 'Pearson correlation', {anchor: 'middle'});
  txt(g, 1137.3, B + 77.5, 'coefficient', {anchor: 'middle'});
  txt(g, 977, (T + B) / 2, 'Number', {anchor: 'middle', rotate: -90});
  return {g, x, yd};
}
{
  const h = histPanel({L: 1033.3, T: 994.3, R: 1240, B: 1316, bins: hist1Bins, red: hist1Strong, blue: hist1Weak,
    counts: hist1TickCounts, decs: hist1TickDecades, decTop: 5, exps: hist1TickExp});
  const g = h.g;
  const grad = defs.append('linearGradient').attr('id', 'simGrad').attr('x1', '0').attr('x2', '1').attr('y1', '0').attr('y2', '0');
  grad.append('stop').attr('offset', '0').attr('stop-color', '#ffffff');
  grad.append('stop').attr('offset', '1').attr('stop-color', '#8a8a8a');
  const x0 = h.x(-0.595), x1 = h.x(0.985);
  g.append('path').attr('d', `M${x0},986L${x1},926L${x1},986Z`).attr('fill', 'url(#simGrad)').attr('stroke', '#444').attr('stroke-width', 1.3);
  txt(g, 1182.7, 975, 'Similarity', {anchor: 'middle'});
  g.append('rect').attr('x', 1047.3).attr('y', 1005).attr('width', 47.7).attr('height', 15.7).attr('fill', 'rgba(65,105,225,0.6)').attr('stroke', '#777').attr('stroke-width', 1.6);
  g.append('rect').attr('x', 1047.3).attr('y', 1045.7).attr('width', 47.7).attr('height', 16).attr('fill', 'rgba(255,0,0,0.45)').attr('stroke', '#999').attr('stroke-width', 1.6);
  txt(g, 1104, 1019, [{t: 'c', it: true}, {t: 'p', sub: true}, ' = 10', {t: '0', sup: true}]);
  txt(g, 1104, 1059.5, [{t: 'c', it: true}, {t: 'p', sub: true}, ' = 10', {t: '3', sup: true}]);
  txt(g, 1056.7, 1155, [{t: 'P', it: true}, ' = 1.4 × 10', {t: '−118', sup: true}]);
}
// lower PCA plots
function drawMarks(gr, xs, ys, pts, color, r) {
  gr.selectAll(null).data(pts.slice(1)).join('circle').attr('cx', d => xs(d[0])).attr('cy', d => ys(d[1])).attr('r', r)
    .attr('fill', color).attr('stroke', '#111').attr('stroke-width', 1.5);
  gr.append('path').attr('d', d3.symbol().type(d3.symbolTriangle).size(130)()).attr('transform', `translate(${xs(pts[0][0])},${ys(pts[0][1]) + 2})`)
    .attr('fill', color).attr('stroke', '#111').attr('stroke-width', 1.5);
}
{
  const lo = pcaPanel({L: 141.5, T: 1457, R: 450.9, B: 1786, hexes: hexLow, ylab: 'PCA2 (23%)', xlab: 'PCA1 (56%)'});
  const g = svg.append('g');
  txt(g, 296.2, 1446, 'Low nutrient', {anchor: 'middle'});
  const lowSets = [[lowGreen, '#5ab34e'], [lowTeal, '#35a87c'], [lowBlue, '#3a86b0']];
  lowSets.forEach(([p, c]) => drawMarks(lo.inner, lo.xs, lo.ys, p, c, 6.5));
  // inset
  const IL = 347.7, IT = 1467.7, IR = 440.7, IB = 1602.3;
  const xi = d3.scaleLinear().domain([-0.347, -0.181]).range([IL, IR]);
  const yi = d3.scaleLinear().domain([-0.279, -0.031]).range([IB, IT]);
  const corners = [[IL, IT], [IR, IB]];
  zoomLinkFrom.forEach((p, i) => g.append('line').attr('x1', lo.xs(p[0])).attr('y1', lo.ys(p[1])).attr('x2', corners[i][0]).attr('y2', corners[i][1])
    .attr('stroke', '#111').attr('stroke-width', 2.2).attr('stroke-dasharray', '2 2.6'));
  const ig = g.append('g');
  ig.append('rect').attr('x', IL).attr('y', IT).attr('width', IR - IL).attr('height', IB - IT).attr('fill', d3.interpolatePurples(0));
  const iin = ig.append('g').attr('clip-path', clip(IL, IT, IR, IB));
  drawHexes(iin, xi, yi, hexLow);
  lowSets.forEach(([p, c]) => drawMarks(iin, xi, yi, p, c, 6.8));
  ig.append('rect').attr('x', IL).attr('y', IT).attr('width', IR - IL).attr('height', IB - IT).attr('fill', 'none').attr('stroke', '#333').attr('stroke-width', 1.4);
  axL(ig, yi, IL, [-0.2, -0.1], f1, {noDomain: true, ts: 5, tp: 4});
  axB(ig, xi, IB, [-0.3, -0.2], f1, {noDomain: true, ts: 5, tp: 6});

  const hi = pcaPanel({L: 598.7, T: 1457, R: 908.3, B: 1786, hexes: hexHigh, ylab: 'PCA2 (23%)', xlab: 'PCA1 (56%)'});
  const g3 = svg.append('g');
  txt(g3, 753.3, 1446, 'High nutrient', {anchor: 'middle'});
  const tracks = [[hiOrange, '#d0640c', '#df8a50'], [hiMagentaA, '#cc1a8a', '#e060bc'], [hiMagentaB, '#cc1a8a', '#e060bc'], [hiRed, '#ff3030', '#ff6565']];
  const P = d => [hi.xs(d[0]), hi.ys(d[1])];
  tracks.forEach(([pts, c, lc]) => {
    hi.inner.append('path').attr('d', d3.line()(pts.map(P))).attr('fill', 'none').attr('stroke', lc).attr('stroke-width', 1.8);
  });
  tracks.forEach(([pts, c]) => {
    for (let i = 0; i < Math.min(3, pts.length - 1); i++) {
      const a = P(pts[i]), b = P(pts[i + 1]);
      const dx = b[0] - a[0], dy = b[1] - a[1], len = Math.hypot(dx, dy);
      if (len < 15 || len > 120) continue;
      const ux = dx / len, uy = dy / len;
      const tip = [a[0] + dx * 0.8, a[1] + dy * 0.8];
      const base = [tip[0] - 11 * ux, tip[1] - 11 * uy];
      hi.inner.append('line').attr('x1', a[0]).attr('y1', a[1]).attr('x2', base[0]).attr('y2', base[1]).attr('stroke', c).attr('stroke-opacity', 0.55).attr('stroke-width', 5);
      hi.inner.append('path').attr('d', `M${tip[0]},${tip[1]}L${base[0] - 6.5 * uy},${base[1] + 6.5 * ux}L${base[0] + 6.5 * uy},${base[1] - 6.5 * ux}Z`)
        .attr('fill', c).attr('fill-opacity', 0.55);
    }
  });
  tracks.forEach(([pts, c]) => drawMarks(hi.inner, hi.xs, hi.ys, pts, c, 6.5));

  const h2 = histPanel({L: 1033.3, T: 1456, R: 1240, B: 1777.7, bins: hist2Bins, red: hist2High, blue: hist2Low,
    counts: hist2TickCounts, decs: hist2TickDecades, decTop: 2.175, exps: hist2TickExp});
  const hg = h2.g;
  hg.append('rect').attr('x', 1048.3).attr('y', 1476.7).attr('width', 45).attr('height', 15).attr('fill', 'rgba(65,105,225,0.6)').attr('stroke', '#777').attr('stroke-width', 1.6);
  hg.append('rect').attr('x', 1048.3).attr('y', 1533.3).attr('width', 45).attr('height', 15.7).attr('fill', 'rgba(255,0,0,0.45)').attr('stroke', '#999').attr('stroke-width', 1.6);
  txt(hg, 1105, 1475, 'Low');
  txt(hg, 1105, 1499.3, 'nutrient');
  txt(hg, 1105, 1531.7, 'High');
  txt(hg, 1105, 1556, 'nutrient');
  txt(hg, 1055, 1631, [{t: 'P', it: true}, ' = 6.1 × 10', {t: '−3', sup: true}]);
}
</script></body></html>
